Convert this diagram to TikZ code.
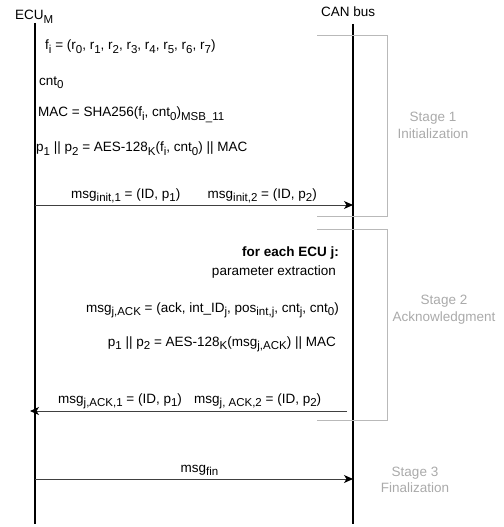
\documentclass[tikz,border=0pt]{standalone}
\usepackage{fontspec}
\setmainfont{Liberation Sans}
\usetikzlibrary{arrows.meta}
\newcommand\sbs[1]{\raisebox{-3.5pt}{\fontsize{11.5}{12}\selectfont #1}}
\definecolor{stagegray}{RGB}{185,185,185}
\definecolor{stagetext}{RGB}{170,170,170}
\begin{document}
\begin{tikzpicture}[x=1pt,y=-1pt,
  txt/.style={font=\fontsize{13.5}{17}\selectfont, inner sep=0pt, anchor=base west},
  rtxt/.style={txt, anchor=base east},
  stagetxt/.style={txt, anchor=base, text=stagetext},
  lifeline/.style={line width=1.2pt, black},
  msgarrow/.style={line width=1pt, black!75, -{Stealth[length=9pt,width=8pt,inset=2.5pt,color=black]}},
  bracket/.style={line width=1pt, stagegray}]
\useasboundingbox (0,0) rectangle (503,527);

% titles
\node[txt] (ecu) at (15,20) {ECU\sbs{M}};
\node[txt] (can) at (321,17) {CAN bus};

% lifelines
\coordinate (ecuTop) at (35,23);
\coordinate (ecuBot) at (35,524);
\coordinate (canTop) at (353,24);
\coordinate (canBot) at (353,524);
\draw[lifeline] (ecuTop) -- (ecuBot);
\draw[lifeline] (canTop) -- (canBot);

% stage 1 texts
\node[txt] (fi) at (45,49.5) {f\sbs{i} = (r\sbs{0}, r\sbs{1}, r\sbs{2}, r\sbs{3}, r\sbs{4}, r\sbs{5}, r\sbs{6}, r\sbs{7})};
\node[txt] (cnt) at (39,85) {cnt\sbs{0}};
\node[txt] (mac) at (38,116.5) {MAC = SHA256(f\sbs{i}, cnt\sbs{0})\sbs{MSB\_11}};
\node[txt] (aes1) at (36,151.5) {p\sbs{1} || p\sbs{2} = AES-128\sbs{K}(f\sbs{i}, cnt\sbs{0}) || MAC};

% init message
\coordinate (e1) at (35,205);
\coordinate (c1) at (353,205);
\draw[msgarrow] (e1) -- (c1);
\node[txt] (mi1) at (71,198) {msg\sbs{init,1} = (ID, p\sbs{1})};
\node[txt] (mi2) at (207.5,198) {msg\sbs{init,2} = (ID, p\sbs{2})};

% stage 2 texts
\node[rtxt, font=\fontsize{13.5}{17}\selectfont\bfseries] (each) at (339,256) {for each ECU j:};
\node[rtxt] (param) at (336,275.5) {parameter extraction};
\node[rtxt] (mack) at (339,312) {msg\sbs{j,ACK} = (ack, int\_ID\sbs{j}, pos\sbs{int,j}, cnt\sbs{j}, cnt\sbs{0})};
\node[rtxt] (aes2) at (336,346) {p\sbs{1} || p\sbs{2} = AES-128\sbs{K}(msg\sbs{j,ACK}) || MAC};

% ack message
\coordinate (c2) at (347,411);
\coordinate (e2) at (30,411);
\draw[msgarrow] (c2) -- (e2);
\node[txt] (ma1) at (58,403) {msg\sbs{j,ACK,1} = (ID, p\sbs{1})};
\node[txt] (ma2) at (194,403) {msg\sbs{j, ACK,2} = (ID, p\sbs{2})};

% fin message
\coordinate (e3) at (35,479);
\coordinate (c3) at (353,479);
\draw[msgarrow] (e3) -- (c3);
\node[txt, anchor=base] (mfin) at (199.5,472) {msg\sbs{fin}};

% stage brackets
\coordinate (b1a) at (317,36);
\coordinate (b1b) at (387,36);
\coordinate (b1c) at (387,216);
\coordinate (b1d) at (317,216);
\draw[bracket] (b1a) -- (b1b) -- (b1c) -- (b1d);
\coordinate (b2a) at (317,229.5);
\coordinate (b2b) at (387,229.5);
\coordinate (b2c) at (387,420);
\coordinate (b2d) at (317,420);
\draw[bracket] (b2a) -- (b2b) -- (b2c) -- (b2d);

% stage labels
\node[stagetxt] (s1a) at (433,121.5) {Stage 1};
\node[stagetxt] (s1b) at (433,138) {Initialization};
\node[stagetxt] (s2a) at (444,304) {Stage 2};
\node[stagetxt] (s2b) at (444,321.5) {Acknowledgment};
\node[stagetxt] (s3a) at (415,476) {Stage 3};
\node[stagetxt] (s3b) at (415,492.5) {Finalization};
\end{tikzpicture}
\end{document}
